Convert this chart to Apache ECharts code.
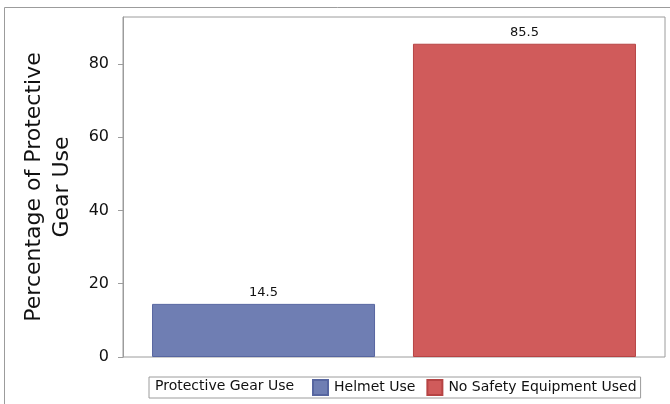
<!DOCTYPE html>
<html>
<head>
<meta charset="utf-8">
<script src="https://cdn.jsdelivr.net/npm/echarts@6/dist/echarts.min.js"></script>
<style>html,body{margin:0;padding:0;background:#fff;}#c{width:670px;height:404px;}</style>
</head>
<body>
<div id="c"></div>
<script>
const categories = [''];
const seriesNames = ['Helmet Use', 'No Safety Equipment Used'];
const helmetValues = [14.5];
const noSafetyValues = [85.5];
const yTicks = [0, 20, 40, 60, 80];
const legendTitle = 'Protective Gear Use';
const yAxisTitle = 'Percentage of Protective\nGear Use';

const FONT = 'DejaVu Sans';
const chart = echarts.init(document.getElementById('c'), null, {renderer: 'canvas'});
chart.setOption({
  animation: false,
  backgroundColor: '#fff',
  textStyle: {fontFamily: FONT},
  grid: {left: 123, right: 5, top: 17, bottom: 47, show: true, borderColor: '#9c9c9c', borderWidth: 1, containLabel: false},
  xAxis: {
    type: 'category', data: categories,
    axisLine: {show: false}, axisTick: {show: false}, axisLabel: {show: false}, splitLine: {show: false}
  },
  yAxis: {
    type: 'value', min: 0, max: 92.8,
    name: yAxisTitle, nameLocation: 'middle', nameGap: 47, nameRotate: 90,
    nameTextStyle: {fontFamily: FONT, fontSize: 22, color: '#111', lineHeight: 28},
    axisLine: {show: true, lineStyle: {color: '#9c9c9c'}},
    axisTick: {show: true, length: 5, lineStyle: {color: '#9c9c9c'}, customValues: yTicks},
    axisLabel: {fontFamily: FONT, fontSize: 16, color: '#111', margin: 14, customValues: yTicks},
    splitLine: {show: false}
  },
  legend: {
    data: seriesNames,
    left: 149, top: 377,
    orient: 'horizontal',
    padding: [2, 4, 2, 163],
    itemWidth: 15, itemHeight: 15, itemGap: 11,
    borderColor: '#9c9c9c', borderWidth: 1,
    textStyle: {fontFamily: FONT, fontSize: 14, color: '#111', padding: [0, 0, 0, 1]},
    icon: 'rect', selectedMode: false
  },
  graphic: [
    {type: 'rect', shape: {x: 4.5, y: 7.5, width: 800, height: 600}, style: {fill: 'none', stroke: '#9c9c9c', lineWidth: 1}, z: -1},
    {type: 'text', left: 155, top: 379, style: {text: legendTitle, font: '14px "DejaVu Sans"', fill: '#111'}}
  ],
  series: [
    {
      name: seriesNames[0], type: 'bar', data: helmetValues, barWidth: 223, barGap: '17%',
      itemStyle: {color: '#6F7EB3', borderColor: '#5766a0', borderWidth: 1},
      label: {show: true, position: 'top', distance: 5, fontFamily: FONT, fontSize: 13, color: '#111'}
    },
    {
      name: seriesNames[1], type: 'bar', data: noSafetyValues, barWidth: 223, barGap: '17%',
      itemStyle: {color: '#D05B5B', borderColor: '#b64444', borderWidth: 1},
      label: {show: true, position: 'top', distance: 5, fontFamily: FONT, fontSize: 13, color: '#111'}
    }
  ]
});
</script>
</body>
</html>
